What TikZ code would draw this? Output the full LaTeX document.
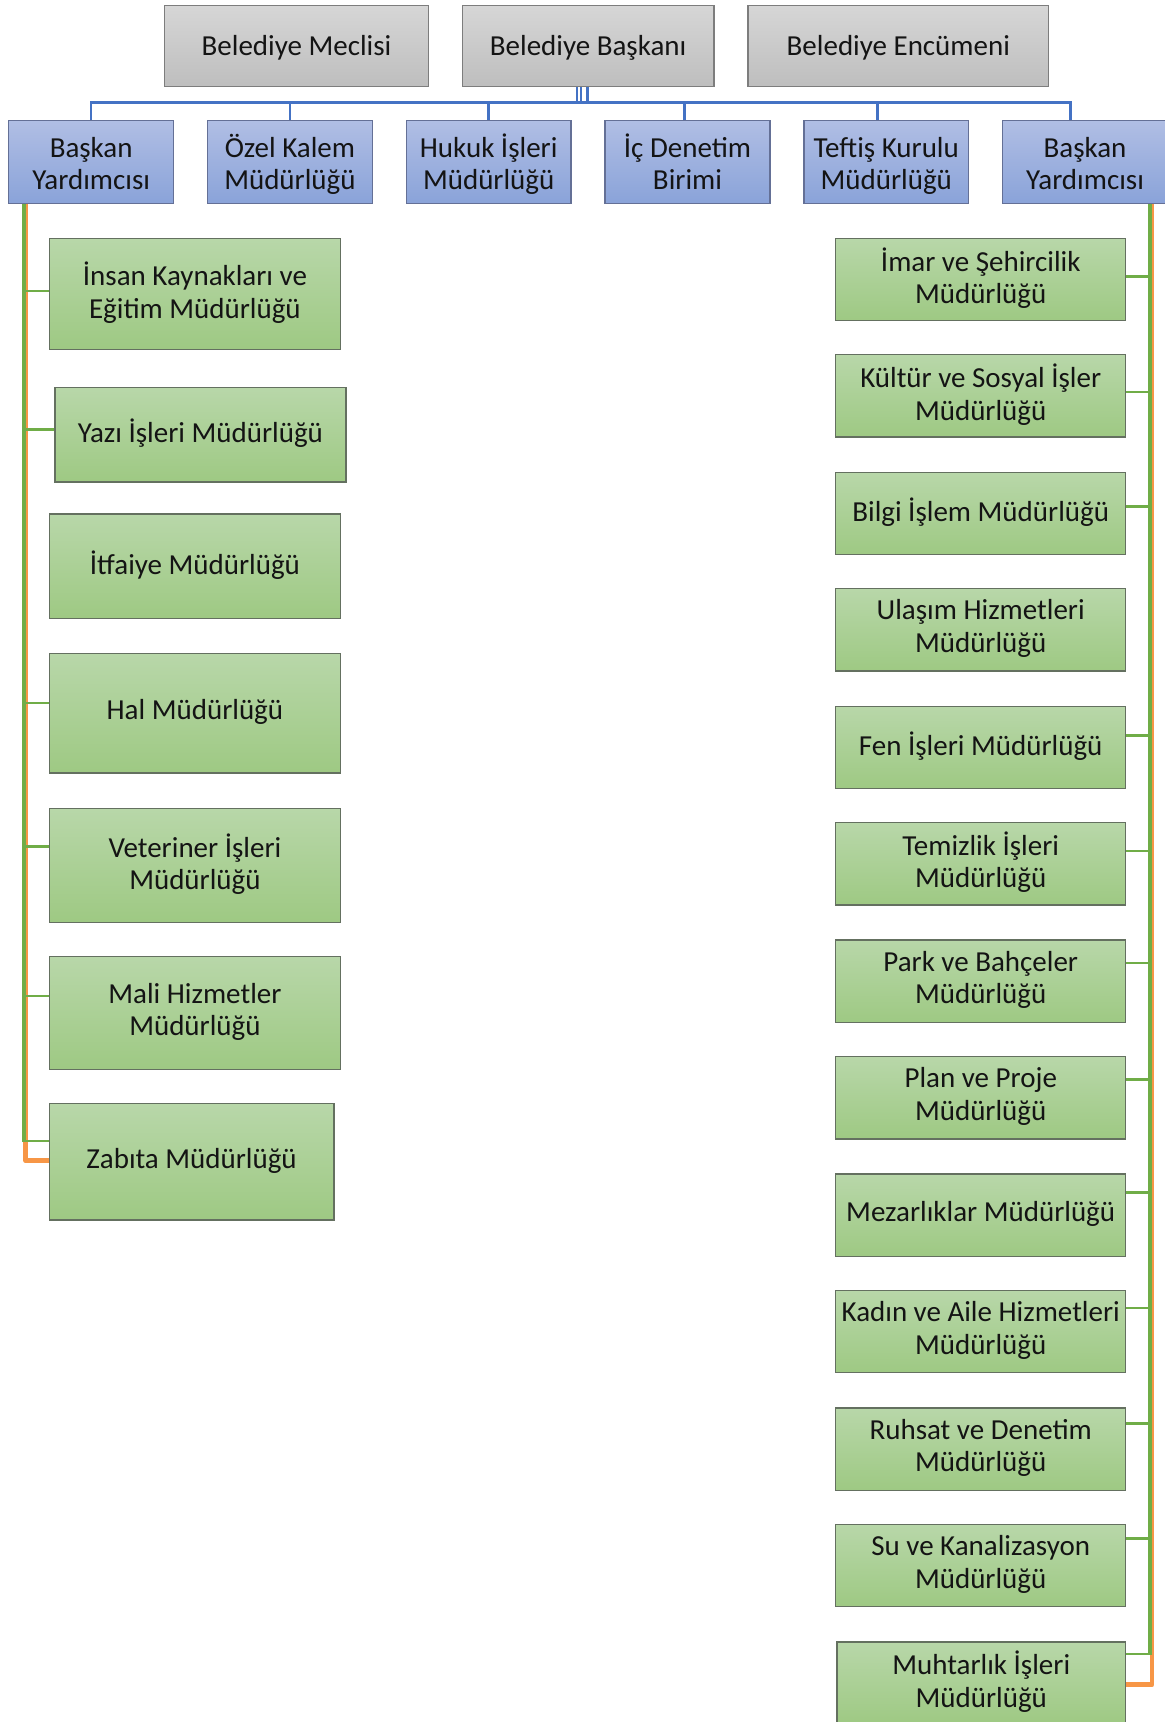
\documentclass[tikz,border=0pt]{standalone}
\usepackage{fontspec}
\setmainfont{Carlito}
\usetikzlibrary{calc}
\definecolor{graytop}{RGB}{214,214,214}
\definecolor{graybot}{RGB}{190,190,190}
\definecolor{grayb}{RGB}{125,125,125}
\definecolor{bluetop}{RGB}{176,190,228}
\definecolor{bluebot}{RGB}{138,163,217}
\definecolor{blueb}{RGB}{100,112,150}
\definecolor{greentop}{RGB}{184,215,169}
\definecolor{greenbot}{RGB}{158,201,131}
\definecolor{greenb}{RGB}{100,112,96}
\definecolor{blueline}{RGB}{68,114,196}
\definecolor{greenline}{RGB}{112,173,71}
\definecolor{orangeline}{RGB}{247,150,70}
\newcommand\fs{\fontsize{13.2}{14.8}\selectfont}
\newcommand\mystrut{\rule[-3.5pt]{0pt}{11.5pt}}
\newcommand\gstrut{\rule{0pt}{12.2pt}}
\newcommand\bstrut{\rule{0pt}{13.8pt}}
\newcommand\mybox[7]{\node[#1, minimum width={(#4-#3)*0.5pt}, minimum height={(#6-#5)*0.5pt}] (#2) at ({(#3+#4)/2},{(#5+#6)/2}) {\mystrut#7\mystrut};}
\tikzset{
  box/.style={draw, line width=0.6pt, inner sep=0pt, align=center, font=\fs, text=black!92},
  graybox/.style={box, draw=grayb, top color=graytop, bottom color=graybot},
  bluebox/.style={box, draw=blueb, top color=bluetop, bottom color=bluebot},
  greenbox/.style={box, draw=greenb, top color=greentop, bottom color=greenbot},
  bl/.style={draw=blueline, line width=1.2pt},
  gl/.style={draw=greenline, line width=1.2pt},
  gtrunk/.style={draw=greenline, line width=1.7pt},
  ol/.style={draw=orangeline, line width=2.2pt, line join=round},
}
\begin{document}
\begin{tikzpicture}[x=0.5pt,y=-0.5pt]
\useasboundingbox (0,0) rectangle (1060,1568);
% top row
\mybox{graybox}{mec}{150}{390}{5}{79}{\gstrut Belediye Meclisi}
\mybox{graybox}{bas}{421}{650}{5}{79}{\gstrut Belediye Başkanı}
\mybox{graybox}{enc}{681}{955}{5}{79}{\gstrut Belediye Encümeni}
% second row
\mybox{bluebox}{by1}{8}{158}{110}{185}{\bstrut Başkan\\Yardımcısı}
\mybox{bluebox}{ozk}{189}{339}{110}{185}{\bstrut Özel Kalem\\Müdürlüğü}
\mybox{bluebox}{huk}{370}{520}{110}{185}{\bstrut Hukuk İşleri\\Müdürlüğü}
\mybox{bluebox}{icd}{551}{701}{110}{185}{\bstrut İç Denetim\\Birimi}
\mybox{bluebox}{tef}{732}{882}{110}{185}{\bstrut Teftiş Kurulu\\Müdürlüğü}
\mybox{bluebox}{by2}{913}{1063}{110}{185}{\bstrut Başkan\\Yardımcısı}
% blue connectors
\coordinate (bus) at (0,94);
\draw[bl] (by1.north) |- ($(by2.north)+(-13,-16)$) -- ($(by2.north)+(-13,0)$);
\draw[bl] (ozk.north) -- (ozk.north |- bus);
\draw[bl] (huk.north) -- (huk.north |- bus);
\draw[bl] ($(icd.north)+(-2.5,0)$) -- ++(0,-16);
\draw[bl] ($(tef.north)+(-8,0)$) -- ++(0,-16);
\draw[bl, line width=0.9pt] ($(bas.south)+(-10.5,0)$) -- ++(0,15);
\draw[bl, line width=0.9pt] ($(bas.south)+(-6.5,0)$) -- ++(0,15);
\draw[bl, line width=1.6pt] ($(bas.south)+(-0.5,0)$) -- ++(0,15);
% left column
\mybox{greenbox}{ink}{45}{310}{217}{318}{İnsan Kaynakları ve\\Eğitim Müdürlüğü}
\mybox{greenbox}{yaz}{50}{315}{353}{439}{Yazı İşleri Müdürlüğü}
\mybox{greenbox}{itf}{45}{310}{468}{563}{İtfaiye Müdürlüğü}
\mybox{greenbox}{hal}{45}{310}{595}{704}{Hal Müdürlüğü}
\mybox{greenbox}{vet}{45}{310}{736}{840}{Veteriner İşleri\\Müdürlüğü}
\mybox{greenbox}{mal}{45}{310}{871}{974}{Mali Hizmetler\\Müdürlüğü}
\mybox{greenbox}{zab}{45}{304}{1005}{1111}{Zabıta Müdürlüğü}
% right column
\mybox{greenbox}{ima}{761}{1025}{217}{292}{İmar ve Şehircilik\\Müdürlüğü}
\mybox{greenbox}{kul}{761}{1025}{323}{398}{Kültür ve Sosyal İşler\\Müdürlüğü}
\mybox{greenbox}{bil}{761}{1025}{430}{505}{Bilgi İşlem Müdürlüğü}
\mybox{greenbox}{ula}{761}{1025}{536}{611}{Ulaşım Hizmetleri\\Müdürlüğü}
\mybox{greenbox}{fen}{761}{1025}{643}{718}{Fen İşleri Müdürlüğü}
\mybox{greenbox}{tem}{761}{1025}{749}{824}{Temizlik İşleri\\Müdürlüğü}
\mybox{greenbox}{par}{761}{1025}{856}{931}{Park ve Bahçeler\\Müdürlüğü}
\mybox{greenbox}{pla}{761}{1025}{962}{1037}{Plan ve Proje\\Müdürlüğü}
\mybox{greenbox}{mez}{761}{1025}{1069}{1144}{Mezarlıklar Müdürlüğü}
\mybox{greenbox}{kad}{761}{1025}{1175}{1250}{Kadın ve Aile Hizmetleri\\Müdürlüğü}
\mybox{greenbox}{ruh}{761}{1025}{1282}{1357}{Ruhsat ve Denetim\\Müdürlüğü}
\mybox{greenbox}{suk}{761}{1025}{1388}{1463}{Su ve Kanalizasyon\\Müdürlüğü}
\mybox{greenbox}{muh}{762}{1025}{1495}{1570}{Muhtarlık İşleri\\Müdürlüğü}
% left connectors
\coordinate (lt) at ($(by1.south)+(-61,0)$);
\draw[ol] ($(by1.south)+(-59.5,0)$) |- ($(zab.west)+(0,-1)$);
\draw[gtrunk] (lt) -- ($(lt)+(0,854)$);
\foreach \n/\o in {ink/-2.5, yaz/-5, hal/-9.5, vet/-17, mal/-15.5, zab/-19}{
  \path ($(\n.west)+(0,\o)$) coordinate (tk);
  \draw[gl] (tk) -- (tk -| lt);
}
% right connectors
\coordinate (rt) at ($(by2.south)+(59,0)$);
\draw[ol] ($(by2.south)+(61,0)$) |- ($(muh.east)+(0,1.5)$);
\draw[gtrunk] (rt) -- ($(rt)+(0,1321)$);
\foreach \n/\o in {ima/-2.5, kul/-3.5, bil/-6.5, fen/-10.5, tem/-11.5, par/-16.5, pla/-16.5, mez/-20.5, kad/-21.5, ruh/-23.5, suk/-24.5, muh/-26.5}{
  \path ($(\n.east)+(0,\o)$) coordinate (tk);
  \draw[gl] (tk) -- (tk -| rt);
}
\end{tikzpicture}
\end{document}
